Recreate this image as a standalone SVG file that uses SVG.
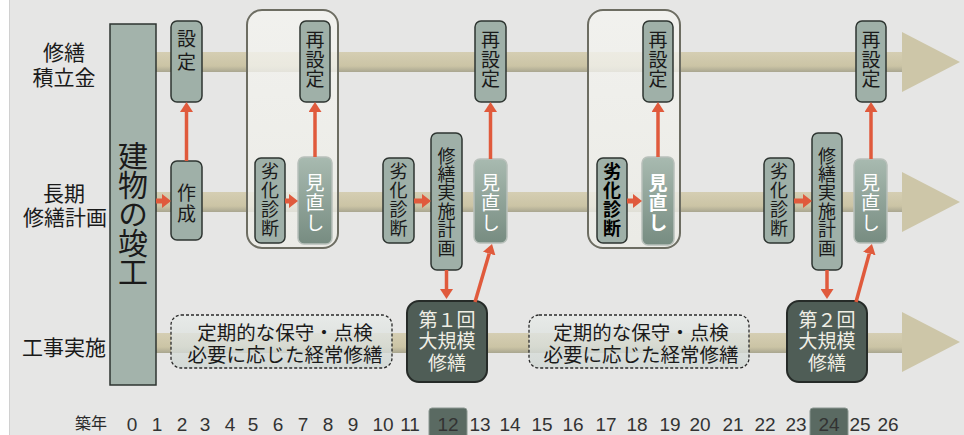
<svg xmlns="http://www.w3.org/2000/svg" width="964" height="435" viewBox="0 0 964 435">
<defs>
<linearGradient id="band" x1="0" y1="0" x2="0" y2="1">
<stop offset="0" stop-color="#d5ceb3"/><stop offset="0.7" stop-color="#cbc4a5"/><stop offset="1" stop-color="#a9a690"/>
</linearGradient>
<linearGradient id="mn" x1="0" y1="0" x2="0" y2="1">
<stop offset="0" stop-color="#a8bab0"/><stop offset="1" stop-color="#778c81"/>
</linearGradient>
<linearGradient id="dash" x1="0" y1="0" x2="0" y2="1">
<stop offset="0" stop-color="#e8ebe9"/><stop offset="1" stop-color="#cfd6d2"/>
</linearGradient>
<linearGradient id="grp" x1="0" y1="0" x2="0" y2="1">
<stop offset="0" stop-color="#f4f4f0"/><stop offset="1" stop-color="#ecece6"/>
</linearGradient>
<marker id="ah" markerUnits="userSpaceOnUse" markerWidth="10" markerHeight="13" viewBox="0 0 10 13" refX="0" refY="6.5" orient="auto">
<path d="M0,0 L10,6.5 L0,13 z" fill="#e05a3c"/>
</marker>
<marker id="ahs" markerUnits="userSpaceOnUse" markerWidth="9" markerHeight="14" viewBox="0 0 9 14" refX="0" refY="7" orient="auto">
<path d="M0,0 L9,7 L0,14 z" fill="#e05a3c"/>
</marker>
</defs>
<style>
.lbl{font-family:"Noto Sans CJK JP","Noto Sans",sans-serif;font-size:21px;fill:#1a1a1a;text-anchor:middle}
.nd{fill:#9fb0a8;stroke:#2e3531;stroke-width:1.5}
.mn{fill:url(#mn);stroke:#b8c0ba;stroke-width:1.5}
.v{font-family:"Noto Sans CJK JP","Noto Sans",sans-serif;font-size:19px;fill:#1a1a1a;text-anchor:middle;writing-mode:vertical-rl}
.v4{font-size:18px;letter-spacing:0.7px}
.v6{font-size:18px;letter-spacing:0.4px}
.v3{letter-spacing:0.5px}
.w{fill:#ffffff;letter-spacing:1px}
.grp{fill:url(#grp);fill-opacity:0.8;stroke:#6d6d62;stroke-width:2}
.big{fill:#4f5d56;stroke:#262b28;stroke-width:2}
.bt{font-family:"Noto Sans CJK JP","Noto Sans",sans-serif;font-size:19px;fill:#efeee4;text-anchor:middle}
.dsh{fill:url(#dash);fill-opacity:0.8;stroke:#2a2a2a;stroke-width:1.3;stroke-dasharray:3 2}
.dt{font-family:"Noto Sans CJK JP","Noto Sans",sans-serif;font-size:19.5px;fill:#1a1a1a;text-anchor:middle}
.arr{stroke:#e05a3c;stroke-width:3.5;fill:none;marker-end:url(#ah)}
.arh{stroke:#e05a3c;stroke-width:5;fill:none;marker-end:url(#ahs)}
.yr{font-family:"Liberation Sans",Arial,sans-serif;font-size:19px;fill:#333333;text-anchor:middle}
</style>
<rect x="0" y="0" width="964" height="435" fill="#e6e6e5"/>
<rect x="0" y="0" width="9" height="435" fill="#ffffff"/>
<line x1="9.5" y1="0" x2="9.5" y2="435" stroke="#d0d0d0"/>

<g id="bands">
<rect x="156" y="52" width="746" height="20" fill="url(#band)"/>
<polygon points="902,32 960,62 902,92" fill="#cdc6a8"/>
<rect x="156" y="192" width="746" height="20" fill="url(#band)"/>
<polygon points="902,172 960,202 902,232" fill="#cdc6a8"/>
<rect x="156" y="333" width="746" height="20" fill="url(#band)"/>
<polygon points="902,312 960,342 902,372" fill="#cdc6a8"/>
</g>

<g id="row-labels">
<text class="lbl" x="64" y="60">修繕</text>
<text class="lbl" x="64" y="85">積立金</text>
<text class="lbl" x="64" y="201">長期</text>
<text class="lbl" x="65" y="225">修繕計画</text>
<text class="lbl" x="64" y="355">工事実施</text>
</g>

<g id="building">
<rect x="110" y="24" width="46" height="361" fill="#a3b3ab" stroke="#2e3531" stroke-width="1.5"/>
<text class="v" x="133" y="213" style="font-size:30px;letter-spacing:-1px">建物の竣工</text>
</g>

<g id="group1"><rect class="grp" x="247" y="10" width="91" height="238" rx="15"/></g>
<g id="group2"><rect class="grp" x="588" y="10" width="92" height="238" rx="15"/></g>

<g id="maint1"><rect class="dsh" x="171" y="315" width="221" height="53" rx="10"/>
<text class="dt" x="285" y="340">定期的な保守・点検</text><text class="dt" x="285" y="362">必要に応じた経常修繕</text></g>
<g id="maint2"><rect class="dsh" x="529" y="315" width="220" height="53" rx="10"/>
<text class="dt" x="641" y="340">定期的な保守・点検</text><text class="dt" x="641" y="362">必要に応じた経常修繕</text></g>

<g id="settei"><rect class="nd" x="171" y="21" width="31" height="81" rx="6"/>
<text class="v" x="186.5" y="52" style="letter-spacing:4px">設定</text></g>
<g id="sakusei"><rect class="nd" x="171" y="161" width="31" height="79" rx="6"/>
<text class="v" x="186.5" y="204" style="letter-spacing:2px">作成</text></g>

<g id="saisettei1"><rect class="nd" x="300" y="21" width="30" height="81" rx="6"/>
<text class="v v3" x="315" y="60">再設定</text></g>
<g id="rekka1"><rect class="nd" x="255" y="158" width="30" height="85" rx="6"/>
<text class="v v4" x="270" y="200">劣化診断</text></g>
<g id="minaoshi1"><rect class="mn" x="298" y="157" width="34" height="87" rx="6"/>
<text class="v w" x="315" y="203">見直し</text></g>

<g id="rekka2"><rect class="nd" x="383" y="158" width="31" height="85" rx="6"/>
<text class="v v4" x="398.5" y="200">劣化診断</text></g>
<g id="keikaku1"><rect class="nd" x="431" y="133" width="31" height="137" rx="6"/>
<text class="v v6" x="446.5" y="202">修繕実施計画</text></g>
<g id="minaoshi2"><rect class="mn" x="474" y="159" width="33" height="84" rx="6"/>
<text class="v w" x="490.5" y="203">見直し</text></g>
<g id="saisettei2"><rect class="nd" x="475" y="21" width="31" height="81" rx="6"/>
<text class="v v3" x="490.5" y="60">再設定</text></g>

<g id="saisettei3"><rect class="nd" x="643" y="21" width="30" height="81" rx="6"/>
<text class="v v3" x="658" y="60">再設定</text></g>
<g id="rekka3"><rect class="nd" x="597" y="158" width="30" height="85" rx="6"/>
<text class="v v4" x="612" y="200" font-weight="bold" style="fill:#000">劣化診断</text></g>
<g id="minaoshi3"><rect class="mn" x="642" y="157" width="32" height="88" rx="6"/>
<text class="v w" x="658" y="203" font-weight="bold">見直し</text></g>

<g id="rekka4"><rect class="nd" x="764" y="158" width="30" height="85" rx="6"/>
<text class="v v4" x="779" y="200">劣化診断</text></g>
<g id="keikaku2"><rect class="nd" x="812" y="133" width="30" height="137" rx="6"/>
<text class="v v6" x="827" y="202">修繕実施計画</text></g>
<g id="minaoshi4"><rect class="mn" x="854" y="159" width="33" height="84" rx="6"/>
<text class="v w" x="870.5" y="203">見直し</text></g>
<g id="saisettei4"><rect class="nd" x="856" y="21" width="30" height="81" rx="6"/>
<text class="v v3" x="871" y="60">再設定</text></g>

<g id="repair1"><rect class="big" x="407" y="301" width="80" height="81" rx="12"/>
<text class="bt" x="447" y="327">第１回</text><text class="bt" x="447" y="348">大規模</text><text class="bt" x="447" y="370">修繕</text></g>
<g id="repair2"><rect class="big" x="787" y="301" width="80" height="81" rx="12"/>
<text class="bt" x="827" y="327">第２回</text><text class="bt" x="827" y="348">大規模</text><text class="bt" x="827" y="370">修繕</text></g>

<g id="connectors">
<line class="arh" x1="156" y1="201" x2="162" y2="201"/>
<line class="arr" x1="186.5" y1="161" x2="186.5" y2="112"/>
<line class="arh" x1="285" y1="201" x2="289" y2="201"/>
<line class="arr" x1="315" y1="157" x2="315" y2="112"/>
<line class="arh" x1="414" y1="201" x2="422" y2="201"/>
<line class="arr" x1="446.5" y1="270" x2="446.5" y2="289"/>
<line class="arr" x1="475" y1="302" x2="489.2" y2="253.6"/>
<line class="arr" x1="490.5" y1="159" x2="490.5" y2="112"/>
<line class="arh" x1="627" y1="201" x2="633" y2="201"/>
<line class="arr" x1="658" y1="157" x2="658" y2="112"/>
<line class="arh" x1="794" y1="201" x2="803" y2="201"/>
<line class="arr" x1="827" y1="270" x2="827" y2="289"/>
<line class="arr" x1="856" y1="302" x2="869.3" y2="253.6"/>
<line class="arr" x1="871" y1="159" x2="871" y2="112"/>
</g>

<g id="years">
<text x="91" y="429" font-family="'Noto Sans CJK JP',sans-serif" font-size="16" fill="#2a2a2a" text-anchor="middle">築年</text>
<rect x="429" y="408" width="38" height="30" rx="3" fill="#5a6a62" stroke="#8a9690" stroke-width="1"/>
<rect x="810" y="408" width="38" height="30" rx="3" fill="#5a6a62" stroke="#8a9690" stroke-width="1"/>
<text class="yr" x="132" y="431">0</text><text class="yr" x="157" y="431">1</text><text class="yr" x="182" y="431">2</text><text class="yr" x="205" y="431">3</text><text class="yr" x="230" y="431">4</text><text class="yr" x="253" y="431">5</text><text class="yr" x="278" y="431">6</text><text class="yr" x="303" y="431">7</text><text class="yr" x="328" y="431">8</text><text class="yr" x="353" y="431">9</text><text class="yr" x="383" y="431">10</text><text class="yr" x="410" y="431">11</text><text class="yr" x="448" y="431" fill="#eef0ee">12</text><text class="yr" x="480" y="431">13</text><text class="yr" x="510" y="431">14</text><text class="yr" x="542" y="431">15</text><text class="yr" x="573" y="431">16</text><text class="yr" x="606" y="431">17</text><text class="yr" x="637" y="431">18</text><text class="yr" x="670" y="431">19</text><text class="yr" x="700" y="431">20</text><text class="yr" x="733" y="431">21</text><text class="yr" x="765" y="431">22</text><text class="yr" x="796" y="431">23</text><text class="yr" x="829" y="431" fill="#eef0ee">24</text><text class="yr" x="860" y="431">25</text><text class="yr" x="888" y="431">26</text>
</g>
</svg>
